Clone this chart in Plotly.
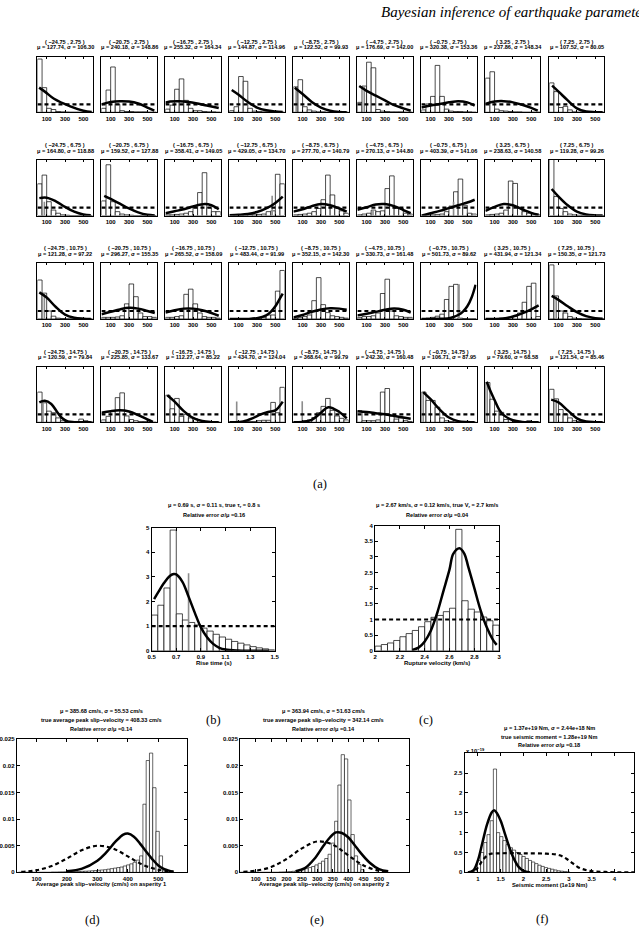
import numpy as np
import plotly.graph_objects as go

W, H = 639, 932

# ---------------- data: small panels (a) ----------------
COL_LABELS = ["−24.75", "−20.75", "−16.75", "−12.75", "−8.75", "−4.75", "−0.75", "3.25", "7.25"]
ROW_LABELS = ["2.75", "6.75", "10.75", "14.75"]
MU = [
    [127.74, 240.18, 255.32, 144.87, 122.52, 176.69, 320.38, 237.86, 107.52],
    [164.80, 159.52, 358.41, 429.05, 277.70, 270.13, 403.39, 238.63, 119.28],
    [121.28, 296.27, 265.52, 483.44, 352.15, 330.73, 501.73, 431.94, 150.35],
    [120.59, 225.85, 112.27, 434.70, 368.64, 242.30, 106.71, 79.60, 121.54],
]
SIGMA = [
    [106.30, 148.86, 164.34, 114.96, 99.93, 142.00, 153.36, 148.34, 80.05],
    [118.88, 127.88, 149.05, 134.70, 140.79, 144.80, 141.06, 140.58, 99.26],
    [97.22, 155.35, 158.09, 91.99, 142.30, 161.48, 89.62, 121.34, 121.73],
    [79.84, 133.67, 85.22, 124.04, 99.79, 160.48, 87.95, 68.58, 85.46],
]
SMALL_BIN_EDGES = [0, 50, 100, 150, 200, 250, 300, 350, 400, 450, 500, 550, 600]
HIST = [
    [
        [6.7, 3.1, 0.5, 0.35, 0.1, 0.05, 0.02, 0, 0, 0, 0, 0],
        [0.5, 2.8, 5.7, 1.0, 0.2, 0.1, 0.1, 0.05, 0.05, 0.05, 0, 0],
        [0.4, 0.9, 2.9, 4.2, 1.5, 0.5, 0.2, 0.2, 0.1, 0.05, 0.05, 0],
        [0.2, 0.7, 4.5, 3.9, 0.5, 0.15, 0.1, 0.05, 0.05, 0, 0, 0],
        [3.2, 4.1, 0.7, 0.3, 0.15, 0.05, 0.05, 0, 0, 0, 0, 0],
        [1.25, 3.3, 6.3, 5.6, 0.35, 0.15, 0.1, 0.05, 0.05, 0.05, 0, 0],
        [0.3, 1.05, 2.0, 5.9, 2.0, 0.4, 0.15, 0.1, 0.1, 0.05, 0.05, 0],
        [4.3, 5.1, 0.4, 0.2, 0.15, 0.1, 0.05, 0.05, 0, 0, 0, 0],
        [3.7, 2.6, 0.6, 0.75, 0.3, 0.05, 0, 0, 0, 0, 0, 0],
    ],
    [
        [4.0, 5.1, 1.75, 0.7, 0.3, 0.1, 0.05, 0, 0, 0, 0, 0],
        [1.85, 6.4, 1.75, 0.5, 0.2, 0.1, 0.05, 0, 0, 0, 0, 0],
        [0.1, 0.1, 0.15, 0.2, 0.3, 0.5, 1.0, 2.9, 5.4, 1.0, 0.5, 0.5],
        [0.05, 0.05, 0.05, 0.05, 0.1, 0.1, 0.15, 0.2, 0.5, 0.6, 5.2, 4.0],
        [0.1, 0.15, 0.2, 0.3, 0.5, 0.9, 2.0, 5.1, 2.6, 1.0, 0.6, 0.3],
        [0.1, 0.2, 0.3, 0.7, 0.5, 0.6, 3.4, 5.0, 0.9, 0.9, 0.3, 0.2],
        [0.05, 0.05, 0.1, 0.15, 0.2, 0.5, 1.2, 3.0, 4.6, 1.3, 0.3, 0.2],
        [0.1, 0.15, 0.2, 0.3, 0.7, 4.35, 4.05, 0.9, 0.5, 0.3, 0.2, 0.1],
        [7.5, 2.4, 0.9, 0.5, 0.2, 0.1, 0.05, 0, 0, 0, 0, 0],
    ],
    [
        [4.9, 3.25, 1.0, 0.35, 0.1, 0.05, 0, 0, 0, 0, 0, 0],
        [0.2, 0.2, 0.2, 0.25, 0.4, 1.9, 4.4, 2.8, 0.75, 0.3, 0.3, 0.2],
        [0.2, 0.2, 0.3, 0.4, 3.1, 3.75, 1.9, 0.75, 0.3, 0.2, 0.2, 0.1],
        [0, 0, 0, 0.05, 0.05, 0.1, 0.1, 0.2, 0.5, 0.5, 3.5, 6.1],
        [0.1, 0.2, 0.3, 0.5, 2.3, 5.2, 1.8, 0.8, 0.4, 0.3, 0.2, 0.1],
        [0.2, 0.3, 0.3, 0.4, 0.75, 3.2, 5.0, 1.0, 0.4, 0.3, 0.2, 0.2],
        [0.05, 0.1, 0.2, 0.35, 0.6, 2.45, 4.1, 4.35, 0.1, 0.05, 0, 0],
        [0, 0, 0.05, 0.1, 0.15, 0.2, 0.3, 0.75, 2.1, 4.1, 4.5, 0.3],
        [6.8, 2.9, 1.0, 0.75, 0.3, 0.1, 0.05, 0, 0, 0, 0, 0],
    ],
    [
        [3.8, 2.45, 1.4, 1.2, 0.55, 0.2, 0.1, 0.1, 0.1, 0.4, 0.2, 0.1],
        [0.3, 0.75, 1.4, 3.1, 3.7, 0.8, 0.35, 0.2, 0.1, 0.1, 0.05, 0],
        [3.4, 1.7, 3.0, 0.75, 1.0, 0.55, 0.45, 0.2, 0.1, 0.1, 0.05, 0],
        [0.1, 0.1, 0.1, 0.1, 0.1, 0.1, 0.2, 0.25, 0.25, 2.5, 1.2, 4.4],
        [0.1, 0.1, 0.2, 0.3, 0.6, 1.2, 2.0, 3.0, 1.5, 0.8, 0.5, 0.3],
        [1.45, 0.2, 0.2, 0.2, 0.3, 3.8, 4.25, 0.75, 0.4, 0.55, 0.2, 0.1],
        [3.8, 2.75, 2.75, 1.9, 0.55, 0.2, 0.1, 0.05, 0, 0, 0, 0],
        [5.0, 2.9, 1.4, 1.25, 0.35, 0.35, 0.1, 0.05, 0.1, 0.2, 0, 0],
        [4.15, 2.95, 1.6, 1.05, 0.55, 0.2, 0.1, 0.05, 0, 0, 0, 0],
    ],
]
CURVE_X = [
    [[18, 80, 180, 357, 500, 590], [0, 100, 200, 300, 400, 500, 575], [0, 50, 150, 250, 350, 450, 580],
     [25, 100, 200, 300, 400, 500, 580], [15, 100, 200, 300, 400, 500, 580], [20, 100, 200, 300, 400, 500, 580],
     [0, 100, 200, 300, 400, 500, 580], [0, 100, 200, 300, 400, 500, 570], [30, 100, 200, 300, 400, 500, 580]],
    [[20, 100, 200, 300, 400, 500, 580], [30, 100, 200, 300, 400, 500, 580], [0, 100, 200, 300, 430, 500, 580],
     [0, 100, 200, 300, 400, 500, 580], [0, 100, 200, 300, 400, 500, 580], [0, 100, 200, 300, 400, 500, 580],
     [0, 100, 200, 300, 400, 500, 580], [0, 100, 200, 300, 400, 500, 580], [25, 100, 200, 300, 400, 500, 580]],
    [[20, 100, 200, 300, 400, 500, 580], [0, 100, 200, 300, 400, 500, 580], [0, 100, 200, 300, 400, 500, 580],
     [0, 200, 300, 400, 450, 500, 550, 580], [0, 100, 200, 300, 400, 500, 580], [0, 100, 200, 300, 400, 500, 580],
     [0, 200, 300, 350, 400, 450, 500, 550, 590], [0, 100, 200, 300, 400, 500, 580], [25, 100, 200, 300, 400, 500, 580]],
    [[20, 80, 150, 220, 270, 330, 400, 580], [0, 100, 200, 300, 400, 500, 560], [20, 100, 200, 300, 400, 500, 580],
     [0, 50, 150, 250, 340, 420, 500, 580], [0, 100, 200, 300, 380, 500, 580], [0, 100, 200, 300, 400, 500, 580],
     [20, 100, 200, 300, 400, 500, 580], [15, 60, 100, 150, 200, 300, 400, 580], [20, 100, 200, 300, 400, 500, 580]],
]
CURVE_Y = [
    [[3.1, 2.6, 1.7, 0.75, 0.2, 0.05], [1.0, 1.3, 1.4, 1.35, 1.1, 0.6, 0.2], [1.2, 1.35, 1.4, 1.3, 1.1, 0.85, 0.55],
     [2.8, 2.2, 1.3, 0.6, 0.25, 0.1, 0.05], [3.1, 2.3, 1.3, 0.6, 0.2, 0.05, 0.02], [3.3, 2.7, 2.1, 1.5, 0.9, 0.5, 0.2],
     [0.6, 0.85, 1.05, 1.25, 1.4, 1.25, 0.85], [1.05, 1.35, 1.4, 1.25, 0.95, 0.55, 0.2], [3.35, 2.6, 1.5, 0.5, 0.1, 0.02, 0.0]],
    [[2.2, 2.25, 1.8, 1.1, 0.5, 0.15, 0.05], [2.5, 2.1, 1.5, 0.9, 0.4, 0.1, 0.03], [0.3, 0.55, 0.8, 1.15, 1.45, 1.3, 0.8],
     [0.05, 0.1, 0.2, 0.45, 0.9, 1.6, 2.4], [0.5, 0.8, 1.2, 1.45, 1.3, 0.9, 0.5], [0.75, 1.05, 1.4, 1.45, 1.2, 0.7, 0.3],
     [0.0, 0.3, 0.6, 0.95, 1.3, 1.65, 2.0], [0.6, 1.1, 1.45, 1.3, 0.8, 0.35, 0.1], [3.35, 2.4, 1.3, 0.5, 0.15, 0.03, 0.0]],
    [[3.35, 2.7, 1.5, 0.55, 0.15, 0.03, 0.0], [0.6, 0.9, 1.2, 1.4, 1.3, 1.0, 0.75], [0.8, 1.1, 1.3, 1.3, 1.1, 0.75, 0.4],
     [0, 0, 0.1, 0.45, 0.9, 1.6, 2.6, 3.2], [0.2, 0.5, 0.9, 1.2, 1.35, 1.3, 1.15], [0.45, 0.65, 0.9, 1.15, 1.3, 1.15, 0.8],
     [0, 0.02, 0.1, 0.25, 0.5, 0.9, 1.6, 2.8, 4.3], [0, 0, 0.05, 0.3, 0.7, 1.2, 1.7], [2.9, 2.4, 1.6, 0.85, 0.35, 0.1, 0.02]],
    [[2.5, 2.7, 2.3, 1.2, 0.5, 0.1, 0.02, 0], [1.2, 1.4, 1.5, 1.35, 0.9, 0.35, 0.05], [3.4, 2.6, 1.4, 0.55, 0.15, 0.02, 0],
     [0, 0, 0.1, 0.5, 1.0, 1.3, 1.5, 2.6], [0, 0.05, 0.3, 1.2, 1.9, 1.3, 0.5], [1.4, 1.3, 1.15, 1.0, 0.8, 0.6, 0.45],
     [3.8, 2.9, 1.6, 0.6, 0.15, 0.03, 0], [5.1, 3.8, 2.8, 1.6, 0.9, 0.25, 0.05, 0], [2.85, 2.5, 1.5, 0.5, 0.1, 0.02, 0]],
]
# true value marker (x, height) per panel, None if not visible
TRUE_MARK = [
    [(43, 3.1), None, None, None, (30, 3.2), (75, 3.3), None, None, None],
    [(75, 1.75), None, None, (465, 2.5), None, (170, 0.7), (350, 1.75), None, None],
    [(75, 3.25), None, None, None, None, None, (410, 4.35), None, (75, 2.9)],
    [(60, 2.45), None, None, (79, 2.6), (96, 2.65), None, (20, 3.8), (20, 5.0), (75, 2.95)],
]
PRIOR_LEVEL = 1.0

# ---------------- data: (b) rise time ----------------
B_EDGES = [0.5 + 0.05 * i for i in range(21)]
B_HEIGHTS = [1.45, 1.85, 2.55, 4.9, 1.5, 1.25, 1.15, 1.05, 0.92, 0.8, 0.67, 0.56, 0.47, 0.38, 0.31,
             0.24, 0.17, 0.12, 0.08, 0.04]
B_CURVE_X = [0.52, 0.55, 0.6, 0.65, 0.68, 0.7, 0.75, 0.8, 0.85, 0.9, 0.95, 1.0, 1.05, 1.1, 1.2, 1.3, 1.45]
B_CURVE_Y = [2.1, 2.35, 2.75, 3.05, 3.12, 3.1, 2.8, 2.2, 1.55, 0.95, 0.55, 0.28, 0.12, 0.05, 0.01, 0, 0]
B_TRUE = (0.8, 3.15)

# ---------------- data: (c) rupture velocity ----------------
C_EDGES = [2.0 + 0.05 * i for i in range(21)]
C_HEIGHTS = [0.15, 0.2, 0.25, 0.33, 0.45, 0.55, 0.65, 0.77, 0.93, 1.07, 1.13, 1.25, 1.36, 3.88, 1.6,
             1.33, 1.24, 1.08, 0.96, 0.82]
C_CURVE_X = [2.3, 2.35, 2.4, 2.45, 2.5, 2.55, 2.6, 2.63, 2.68, 2.72, 2.75, 2.8, 2.85, 2.9, 2.95, 2.98]
C_CURVE_Y = [0.03, 0.1, 0.3, 0.65, 1.2, 1.9, 2.6, 3.1, 3.28, 3.1, 2.7, 2.0, 1.3, 0.75, 0.35, 0.19]

# ---------------- data: (d) asperity 1 ----------------
D_EDGE0, D_BINW = 41.0, 10.75
D_HEIGHTS = [0, 0, 0, 0, 0, 0, 0, 0, 0, 0,
             0.00005, 0.00005, 0.00007, 0.00008, 0.0001, 0.0001, 0.00012, 0.00014, 0.00016, 0.0002,
             0.00022, 0.00025, 0.0003, 0.00034, 0.0004, 0.00045, 0.0005, 0.0006, 0.0007, 0.0008,
             0.0009, 0.001, 0.0012, 0.0014, 0.0016, 0.0019, 0.0023, 0.0031,
             0.0128, 0.021, 0.0224, 0.0159, 0.0077, 0.0031, 0.0003]
D_CURVE_X = [200, 250, 300, 330, 360, 385, 400, 420, 440, 460, 480, 500, 520, 550]
D_CURVE_Y = [0.0002, 0.0007, 0.0022, 0.0038, 0.0058, 0.0071, 0.0073, 0.0067, 0.0054, 0.0039, 0.0025,
             0.0013, 0.0006, 0.0001]
D_PRIOR_X = [50, 100, 150, 200, 250, 300, 350, 400, 450, 500, 550]
D_PRIOR_Y = [0.0001, 0.0004, 0.0012, 0.0026, 0.0042, 0.0050, 0.0045, 0.0030, 0.0014, 0.0005, 0.0001]

# ---------------- data: (e) asperity 2 ----------------
E_EDGE0, E_BINW = 47.2, 10.65
E_HEIGHTS = [0, 0, 0, 0, 0, 0, 0, 0, 0, 0, 0, 0, 0.00005, 0.00007,
             0.0001, 0.00015, 0.0002, 0.0003, 0.0004, 0.0005, 0.0007, 0.0009, 0.0011, 0.0014, 0.0017,
             0.0021, 0.0026, 0.0034, 0.0055, 0.0096, 0.0164, 0.0221, 0.0213, 0.0136, 0.0071, 0.0031,
             0.0015, 0.0005]
E_CURVE_X = [230, 260, 290, 320, 340, 360, 380, 400, 420, 440, 470, 500, 530]
E_CURVE_Y = [0.0002, 0.0008, 0.0025, 0.0050, 0.0065, 0.0075, 0.0074, 0.0066, 0.0052, 0.0037, 0.0018,
             0.0006, 0.0002]
E_PRIOR_X = [60, 100, 150, 200, 250, 300, 350, 400, 450, 500, 530]
E_PRIOR_Y = [0.0001, 0.0003, 0.001, 0.0025, 0.0045, 0.0058, 0.0052, 0.0032, 0.0013, 0.0003, 0.0001]

# ---------------- data: (f) seismic moment ----------------
F_EDGE0, F_BINW = 0.85, 0.07
F_HEIGHTS = [0.02, 0.08, 0.3, 0.5, 0.75, 0.95, 1.3, 2.6, 1.0, 0.9, 0.8, 0.7, 0.62, 0.56, 0.5, 0.45,
             0.4, 0.35, 0.3, 0.26, 0.22, 0.18, 0.15, 0.12, 0.1, 0.08, 0.06, 0.04, 0.03, 0.02, 0.01]
F_CURVE_X = [0.78, 0.9, 1.0, 1.1, 1.2, 1.3, 1.35, 1.4, 1.5, 1.6, 1.7, 1.8, 1.9, 2.0, 2.15]
F_CURVE_Y = [0, 0.05, 0.3, 0.75, 1.2, 1.5, 1.56, 1.52, 1.3, 0.95, 0.6, 0.32, 0.13, 0.04, 0]
F_PRIOR_X = [0.8, 0.9, 1.0, 1.1, 1.2, 1.3, 1.5, 2.0, 2.5, 2.8, 3.0, 3.2, 3.4, 3.6, 3.8, 4.0, 4.43]
F_PRIOR_Y = [0, 0.02, 0.12, 0.3, 0.42, 0.47, 0.48, 0.48, 0.47, 0.43, 0.3, 0.13, 0.05, 0.02, 0.01, 0.0, 0.0]

# ---------------- figure construction ----------------
fig = go.Figure()
layout = dict(width=W, height=H, margin=dict(l=0, r=0, t=0, b=0), paper_bgcolor="white",
              plot_bgcolor="white", showlegend=False, barmode="overlay")
annotations = []
counter = [0]
FONT = "Liberation Sans"


def axis_style(rng, tickvals, ticktext=None, fsize=5.5, labels=True, ticklen=2):
    d = dict(range=rng, showline=True, linecolor="black", linewidth=1.1, mirror="ticks", ticks="inside",
             ticklen=ticklen, tickwidth=0.8, tickcolor="black", showgrid=False, zeroline=False,
             tickvals=tickvals, showticklabels=labels, fixedrange=True,
             tickfont=dict(family=FONT, size=fsize, color="black", weight="bold"))
    if ticktext is not None:
        d["ticktext"] = ticktext
    return d


def new_axes(x0, x1, top, bottom, xcfg, ycfg):
    counter[0] += 1
    i = counter[0]
    xn = "x" if i == 1 else f"x{i}"
    yn = "y" if i == 1 else f"y{i}"
    layout["xaxis" if i == 1 else f"xaxis{i}"] = dict(domain=[x0 / W, x1 / W], anchor=yn, **xcfg)
    layout["yaxis" if i == 1 else f"yaxis{i}"] = dict(domain=[1 - bottom / H, 1 - top / H], anchor=xn, **ycfg)
    return xn, yn


def text(xp, yp, s, size=5.5, bold=True, family=FONT, italic=False, xanchor="center"):
    annotations.append(dict(x=xp / W, y=1 - yp / H, xref="paper", yref="paper", text=s, showarrow=False,
                            xanchor=xanchor, yanchor="middle",
                            font=dict(family=family, size=size, color="black",
                                      weight="bold" if bold else "normal",
                                      style="italic" if italic else "normal")))


def add_hist(xn, yn, edges, heights, lw=0.7):
    edges = np.asarray(edges, dtype=float)
    centers = (edges[:-1] + edges[1:]) / 2
    widths = edges[1:] - edges[:-1]
    fig.add_trace(go.Bar(x=centers[:len(heights)], y=heights, width=widths[:len(heights)],
                         marker=dict(color="white", line=dict(color="black", width=lw)),
                         xaxis=xn, yaxis=yn, hoverinfo="skip"))


def add_line(xn, yn, xs, ys, width=2.4, dash="solid", color="black", shape="spline"):
    fig.add_trace(go.Scatter(x=xs, y=ys, mode="lines", xaxis=xn, yaxis=yn, hoverinfo="skip",
                             line=dict(color=color, width=width, dash=dash, shape=shape)))


# (a) small panels
for r in range(4):
    for c in range(9):
        x0 = 33 + 65 * c
        top = 54 + 104 * r
        xn, yn = new_axes(x0, x0 + 56, top, top + 56,
                          axis_style([0, 600], [100, 300, 500], fsize=6),
                          axis_style([0, 7], [], labels=False))
        add_hist(xn, yn, SMALL_BIN_EDGES, HIST[r][c])
        tm = TRUE_MARK[r][c]
        if tm is not None:
            add_line(xn, yn, [tm[0], tm[0]], [0, tm[1]], width=1.6, color="#8c8c8c", shape="linear")
        add_line(xn, yn, [0, 600], [PRIOR_LEVEL, PRIOR_LEVEL], width=2.2, dash="4px,3px", shape="linear")
        add_line(xn, yn, CURVE_X[r][c], CURVE_Y[r][c], width=2.5)
        text(x0 + 28, top - 15, f"( {COL_LABELS[c]} , {ROW_LABELS[r]} )", size=5.6)
        text(x0 + 28, top - 9.3, f"μ = {MU[r][c]:.2f}, σ = {SIGMA[r][c]:.2f}", size=5.6)

text(320, 484, "(a)", size=12.5, bold=False, family="Liberation Serif")

# (b)
xn, yn = new_axes(149, 274, 528, 652,
                  axis_style([0.5, 1.5], [0.5, 0.7, 0.9, 1.1, 1.3, 1.5], ["0.5", "0.7", "0.9", "1.1", "1.3", "1.5"], fsize=6, ticklen=3),
                  axis_style([0, 5], [0, 1, 2, 3, 4, 5], fsize=6, ticklen=3))
add_hist(xn, yn, B_EDGES, B_HEIGHTS)
add_line(xn, yn, [B_TRUE[0], B_TRUE[0]], [0, B_TRUE[1]], width=1.6, color="#8c8c8c", shape="linear")
add_line(xn, yn, [0.5, 1.5], [1, 1], width=2.2, dash="4px,3px", shape="linear")
add_line(xn, yn, B_CURVE_X, B_CURVE_Y, width=2.5)
text(212, 506, "μ = 0.69 s, σ = 0.11 s, true τ<sub>r</sub> = 0.8 s", size=5.6)
text(212, 515, "Relative error σ/μ =0.16", size=5.6)
text(212, 664, "Rise time (s)", size=6)
text(212, 722, "(b)", size=12.5, bold=False, family="Liberation Serif")

# (c)
xn, yn = new_axes(376, 502, 526, 652,
                  axis_style([2, 3], [2, 2.2, 2.4, 2.6, 2.8, 3], ["2", "2.2", "2.4", "2.6", "2.8", "3"], fsize=6, ticklen=3),
                  axis_style([0, 4], [0, 0.5, 1, 1.5, 2, 2.5, 3, 3.5, 4],
                             ["0", "0.5", "1", "1.5", "2", "2.5", "3", "3.5", "4"], fsize=6, ticklen=3))
add_hist(xn, yn, C_EDGES, C_HEIGHTS)
add_line(xn, yn, [2, 3], [1, 1], width=2.2, dash="4px,3px", shape="linear")
add_line(xn, yn, C_CURVE_X, C_CURVE_Y, width=2.5)
text(439, 506, "μ = 2.67 km/s, σ = 0.12 km/s, true V<sub>r</sub> = 2.7 km/s", size=5.6)
text(439, 515, "Relative error σ/μ =0.04", size=5.6)
text(439, 664, "Rupture velocity (km/s)", size=6)
text(428, 722, "(c)", size=12.5, bold=False, family="Liberation Serif")

# (d)
YT = [0, 0.005, 0.01, 0.015, 0.02, 0.025]
YTT = ["0", "0.005", "0.01", "0.015", "0.02", "0.025"]
xn, yn = new_axes(12, 185, 741, 875,
                  axis_style([35.5, 594.6], [100, 200, 300, 400, 500], fsize=6, ticklen=3),
                  axis_style([0, 0.025], YT, YTT, fsize=6, ticklen=3))
d_edges = [D_EDGE0 + D_BINW * i for i in range(len(D_HEIGHTS) + 1)]
add_hist(xn, yn, d_edges, D_HEIGHTS, lw=0.6)
add_line(xn, yn, D_PRIOR_X, D_PRIOR_Y, width=2.2, dash="4px,3px")
add_line(xn, yn, D_CURVE_X, D_CURVE_Y, width=2.5)
text(98, 713, "μ = 385.68 cm/s, σ = 55.53 cm/s", size=5.6)
text(98, 722, "true average peak slip−velocity = 408.33 cm/s", size=5.6)
text(98, 731, "Relative error σ/μ =0.14", size=5.6)
text(98, 887, "Average peak slip−velocity (cm/s) on asperity 1", size=5.8)
text(89, 923, "(d)", size=12.5, bold=False, family="Liberation Serif")

# (e)
xn, yn = new_axes(239, 410, 741, 875,
                  axis_style([50, 596], [100, 150, 200, 250, 300, 350, 400, 450, 500], fsize=6, ticklen=3),
                  axis_style([0, 0.025], YT, YTT, fsize=6, ticklen=3))
e_edges = [E_EDGE0 + E_BINW * i for i in range(len(E_HEIGHTS) + 1)]
add_hist(xn, yn, e_edges, E_HEIGHTS, lw=0.6)
add_line(xn, yn, E_PRIOR_X, E_PRIOR_Y, width=2.2, dash="4px,3px")
add_line(xn, yn, E_CURVE_X, E_CURVE_Y, width=2.5)
text(324, 713, "μ = 363.94 cm/s, σ = 51.63 cm/s", size=5.6)
text(324, 722, "true average peak slip−velocity = 342.14 cm/s", size=5.6)
text(324, 731, "Relative error σ/μ =0.14", size=5.6)
text(324, 887, "Average peak slip−velocity (cm/s) on asperity 2", size=5.8)
text(317, 923, "(e)", size=12.5, bold=False, family="Liberation Serif")

# (f)
xn, yn = new_axes(467, 639, 755, 875,
                  axis_style([0.71, 4.43], [1, 1.5, 2, 2.5, 3, 3.5, 4], ["1", "1.5", "2", "2.5", "3", "3.5", "4"], fsize=6, ticklen=3),
                  axis_style([0, 3.0], [0, 0.5, 1, 1.5, 2, 2.5], ["0", "0.5", "1", "1.5", "2", "2.5"], fsize=6, ticklen=3))
f_edges = [F_EDGE0 + F_BINW * i for i in range(len(F_HEIGHTS) + 1)]
add_hist(xn, yn, f_edges, F_HEIGHTS, lw=0.6)
add_line(xn, yn, F_PRIOR_X, F_PRIOR_Y, width=2.2, dash="4px,3px")
add_line(xn, yn, F_CURVE_X, F_CURVE_Y, width=2.5)
text(553, 730, "μ = 1.37e+19 Nm, σ = 2.44e+18 Nm", size=5.6)
text(553, 739, "true seismic moment = 1.28e+19 Nm", size=5.6)
text(553, 747, "Relative error σ/μ =0.18", size=5.6)
text(466, 752, "x 10<sup>−19</sup>", size=5.8, xanchor="left")
text(553, 888, "Seismic moment (1e19 Nm)", size=5.8)
text(546, 922, "(f)", size=12.5, bold=False, family="Liberation Serif")

# running header (cut by the page edge as in the scanned page)
text(380, 9, "Bayesian inference of earthquake parameters", size=15, bold=False,
     family="Liberation Serif", italic=True, xanchor="left")

layout["annotations"] = annotations
fig.update_layout(**layout)
fig.write_html("out.html")
